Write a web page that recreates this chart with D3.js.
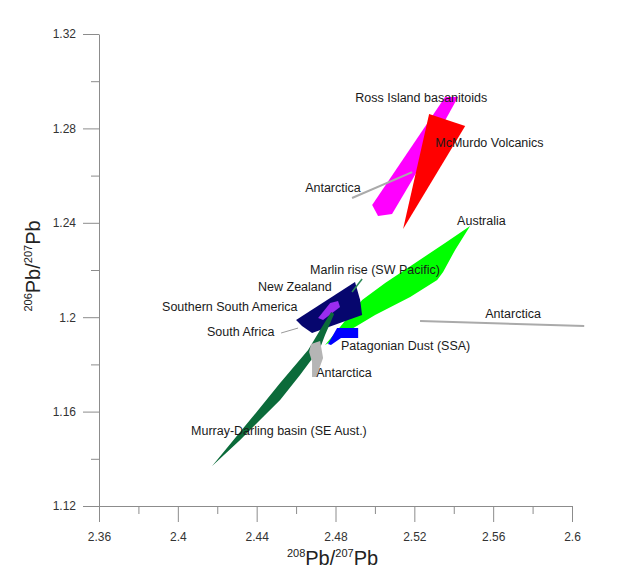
<!DOCTYPE html>
<html>
<head>
<meta charset="utf-8">
<script src="https://cdn.jsdelivr.net/npm/d3@7"></script>
<style>
  body { margin: 0; background: #fff; }
  svg { font-family: "Liberation Sans", Arial, sans-serif; }
  .axis path, .axis line { stroke: #8c8c8c; }
  .axis text { fill: #333; font-size: 12px; }
  .label { fill: #1a1a1a; font-size: 12.5px; }
</style>
</head>
<body>
<div id="chart"></div>
<script>
// Pb isotope fields, 208Pb/207Pb vs 206Pb/207Pb

var xTicks = [2.36, 2.40, 2.44, 2.48, 2.52, 2.56, 2.60];
var yTicks = [1.12, 1.16, 1.20, 1.24, 1.28, 1.32];
var xMinor = [2.38, 2.42, 2.46, 2.50, 2.54, 2.58];
var yMinor = [1.14, 1.18, 1.22, 1.26, 1.30];

// field outlines, [208/207, 206/207]
var rossIsland = [[2.5356,1.2933],[2.5422,1.2933],[2.5189,1.2581],[2.5087,1.2437],[2.5016,1.2429],[2.4986,1.2475]];
var mcMurdo = [[2.5275,1.2861],[2.5458,1.2810],[2.5143,1.2374]];
var australia = [[2.5483,1.2386],[2.5407,1.2285],[2.5346,1.2192],[2.5316,1.2158],[2.5179,1.2086],[2.5001,1.2009],
  [2.4874,1.1946],[2.4747,1.1882],[2.4798,1.1933],[2.4935,1.2073],[2.5052,1.2145],[2.5204,1.2230],[2.5356,1.2314]];
var southAmerica = [[2.4600,1.1988],[2.4899,1.2149],[2.4925,1.2073],[2.4935,1.2009],[2.4681,1.1933],[2.4630,1.1963]];
var newZealand = [[2.4773,1.2060],[2.4813,1.2069],[2.4823,1.2043],[2.4737,1.1988],[2.4712,1.1997]];
var patagonia = [[2.4762,1.1886],[2.4808,1.1954],[2.4915,1.1954],[2.4915,1.1912],[2.4828,1.1912],[2.4777,1.1882]];
var murrayDarling = [[2.4174,1.1369],[2.4366,1.1564],[2.4519,1.1721],[2.4661,1.1861],[2.4722,1.1946],[2.4778,1.2022],
  [2.4793,1.2014],[2.4747,1.1925],[2.4722,1.1869],[2.4620,1.1755],[2.4519,1.1649],[2.4316,1.1480]];
var antarcticaLow = [[2.4676,1.1886],[2.4722,1.1899],[2.4737,1.1827],[2.4702,1.1747],[2.4681,1.1747],[2.4681,1.1811],[2.4666,1.1853]];

// single trends / leaders
var antarcticaUpper = [[2.4884,1.2505],[2.5189,1.2615]];
var antarcticaRight = [[2.5229,1.1984],[2.6062,1.1963]];
var marlinLeader = [[2.4935,1.2162],[2.4884,1.2107]];
var southAfricaLeader = [[2.4524,1.1933],[2.4610,1.1954]];

var labelText = ["Ross Island basanitoids", "McMurdo Volcanics", "Antarctica", "Australia",
  "Marlin rise (SW Pacific)", "New Zealand", "Southern South America", "South Africa",
  "Patagonian Dust (SSA)", "Antarctica", "Murray-Darling basin (SE Aust.)", "Antarctica"];
var labelX = [2.490, 2.5306, 2.4646, 2.5417, 2.4671, 2.4407, 2.3920, 2.4148, 2.4828, 2.4702, 2.4067, 2.5560];
var labelY = [1.2912, 1.2721, 1.2531, 1.2391, 1.2183, 1.2111, 1.2026, 1.1920, 1.1861, 1.1747, 1.1501, 1.1997];

var svgWidth = 639, svgHeight = 573;

var x = d3.scaleLinear().domain([2.36, 2.6]).range([99, 572]);
var y = d3.scaleLinear().domain([1.12, 1.32]).range([506, 34]);

var svg = d3.select("#chart").append("svg")
    .attr("width", svgWidth)
    .attr("height", svgHeight);

var line = d3.line().x(function(d) { return x(d[0]); }).y(function(d) { return y(d[1]); });

// fields, back to front
var fields = [
  {pts: rossIsland, fill: "#ff00ff"},
  {pts: mcMurdo, fill: "#ff0000"},
  {pts: australia, fill: "#00ff00"},
  {pts: southAmerica, fill: "#06066e"},
  {pts: newZealand, fill: "#9a2cf0"},
  {pts: patagonia, fill: "#0000ff"},
  {pts: murrayDarling, fill: "#0b6b3a"},
  {pts: antarcticaLow, fill: "#b5b5b5"}
];

svg.selectAll(".field")
    .data(fields)
  .enter().append("path")
    .attr("class", "field")
    .attr("d", function(d) { return line(d.pts) + "Z"; })
    .attr("fill", function(d) { return d.fill; })
    .attr("stroke", "none");

svg.selectAll(".trend")
    .data([antarcticaUpper, antarcticaRight])
  .enter().append("path")
    .attr("class", "trend")
    .attr("d", line)
    .attr("fill", "none")
    .attr("stroke", "#aaaaaa")
    .attr("stroke-width", 2);

svg.append("path").attr("d", line(marlinLeader))
    .attr("fill", "none").attr("stroke", "#2e8b57").attr("stroke-width", 1.5);
svg.append("path").attr("d", line(southAfricaLeader))
    .attr("fill", "none").attr("stroke", "#9a9a9a").attr("stroke-width", 1);

// axes
var fmt = function(d) { return d3.format(".2f")(d).replace(/0$/, ""); };

svg.append("g")
    .attr("class", "axis")
    .attr("transform", "translate(0," + y(1.12) + ")")
    .call(d3.axisBottom(x).tickValues(xTicks).tickSize(16).tickPadding(10).tickSizeOuter(0).tickFormat(fmt));
svg.append("g")
    .attr("class", "axis")
    .attr("transform", "translate(0," + y(1.12) + ")")
    .call(d3.axisBottom(x).tickValues(xMinor).tickSize(8).tickSizeOuter(0).tickFormat(""))
    .select(".domain").remove();

svg.append("g")
    .attr("class", "axis")
    .attr("transform", "translate(" + x(2.36) + ",0)")
    .call(d3.axisLeft(y).tickValues(yTicks).tickSize(16).tickPadding(7).tickSizeOuter(0).tickFormat(fmt));
svg.append("g")
    .attr("class", "axis")
    .attr("transform", "translate(" + x(2.36) + ",0)")
    .call(d3.axisLeft(y).tickValues(yMinor).tickSize(8).tickSizeOuter(0).tickFormat(""))
    .select(".domain").remove();

// axis titles
var xt = svg.append("text")
    .attr("x", (x(2.36) + x(2.6)) / 2 - 3)
    .attr("y", 565)
    .attr("text-anchor", "middle")
    .style("font-size", "20px")
    .style("fill", "#222");
xt.append("tspan").attr("font-size", "11px").attr("dy", -8).text("208");
xt.append("tspan").attr("dy", 8).text("Pb/");
xt.append("tspan").attr("font-size", "11px").attr("dy", -8).text("207");
xt.append("tspan").attr("dy", 8).text("Pb");

var yt = svg.append("text")
    .attr("transform", "translate(40," + ((y(1.12) + y(1.32)) / 2 - 4) + ") rotate(-90)")
    .attr("text-anchor", "middle")
    .style("font-size", "20px")
    .style("fill", "#222");
yt.append("tspan").attr("font-size", "11px").attr("dy", -8).text("206");
yt.append("tspan").attr("dy", 8).text("Pb/");
yt.append("tspan").attr("font-size", "11px").attr("dy", -8).text("207");
yt.append("tspan").attr("dy", 8).text("Pb");

// field labels
svg.selectAll(".label")
    .data(labelText)
  .enter().append("text")
    .attr("class", "label")
    .attr("x", function(d, i) { return x(labelX[i]); })
    .attr("y", function(d, i) { return y(labelY[i]); })
    .text(function(d) { return d; });
</script>
</body>
</html>
